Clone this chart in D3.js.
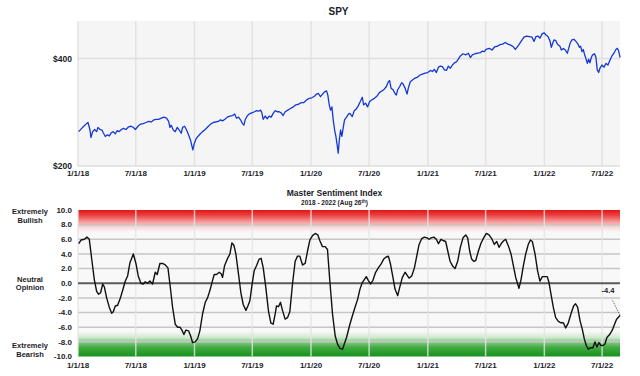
<!DOCTYPE html>
<html>
<head>
<meta charset="utf-8">
<script src="https://cdn.jsdelivr.net/npm/d3@7"></script>
<style>
  body { margin: 0; background: #fff; }
  text { font-family: Arial, "Liberation Sans", sans-serif; font-weight: bold; fill: #1c1c28; }
</style>
</head>
<body>
<svg width="640" height="376"></svg>
<script>
// SPY price, [decimal year, $]
const spy = [
  [2018.006,264],[2018.040,272],[2018.069,278],[2018.086,281],[2018.103,267],[2018.111,253],[2018.126,264],
  [2018.143,268],[2018.160,264],[2018.171,272],[2018.189,268],[2018.206,267],[2018.217,262],[2018.234,255],
  [2018.252,258],[2018.269,256],[2018.286,262],[2018.303,264],[2018.320,260],[2018.337,266],[2018.354,264],
  [2018.372,268],[2018.389,270],[2018.412,268],[2018.434,273],[2018.455,274],[2018.475,272],[2018.492,268],
  [2018.515,274],[2018.537,278],[2018.560,279],[2018.583,281],[2018.606,283],[2018.629,282],[2018.652,286],
  [2018.669,287],[2018.692,287],[2018.715,289],[2018.738,291],[2018.760,289],[2018.778,283],[2018.789,272],
  [2018.800,276],[2018.818,267],[2018.835,264],[2018.852,272],[2018.869,267],[2018.886,261],[2018.898,272],
  [2018.915,274],[2018.932,267],[2018.949,258],[2018.966,248],[2018.978,237],[2018.986,230],[2018.998,242],
  [2019.012,250],[2019.029,255],[2019.046,259],[2019.069,264],[2019.092,268],[2019.115,273],[2019.138,278],
  [2019.161,281],[2019.204,283],[2019.224,286],[2019.241,284],[2019.261,287],[2019.281,291],[2019.304,293],
  [2019.327,294],[2019.344,297],[2019.361,289],[2019.378,291],[2019.395,286],[2019.412,279],[2019.424,276],
  [2019.435,286],[2019.452,293],[2019.470,297],[2019.492,299],[2019.515,301],[2019.532,303],[2019.550,302],
  [2019.567,304],[2019.578,299],[2019.590,287],[2019.607,293],[2019.624,288],[2019.641,293],[2019.658,291],
  [2019.675,298],[2019.693,303],[2019.710,301],[2019.727,301],[2019.744,299],[2019.761,294],[2019.778,301],
  [2019.801,304],[2019.824,307],[2019.847,310],[2019.870,314],[2019.893,315],[2019.916,318],[2019.938,318],
  [2019.961,323],[2019.984,326],[2020.007,327],[2020.030,330],[2020.047,334],[2020.064,335],[2020.081,329],
  [2020.099,334],[2020.116,338],[2020.133,340],[2020.144,332],[2020.156,314],[2020.167,304],[2020.179,310],
  [2020.190,286],[2020.202,267],[2020.213,255],[2020.224,239],[2020.233,224],[2020.242,248],[2020.253,267],
  [2020.264,255],[2020.276,272],[2020.287,286],[2020.304,291],[2020.322,297],[2020.333,298],[2020.353,292],
  [2020.370,303],[2020.387,306],[2020.404,312],[2020.422,320],[2020.439,328],[2020.450,314],[2020.467,317],
  [2020.484,310],[2020.502,320],[2020.519,323],[2020.542,326],[2020.564,330],[2020.587,337],[2020.610,340],
  [2020.627,343],[2020.645,348],[2020.662,357],[2020.673,359],[2020.685,345],[2020.702,342],[2020.719,335],
  [2020.730,332],[2020.742,342],[2020.759,348],[2020.776,355],[2020.787,353],[2020.805,345],[2020.822,334],
  [2020.833,345],[2020.850,357],[2020.868,360],[2020.885,363],[2020.908,365],[2020.930,369],[2020.953,371],
  [2020.976,373],[2020.999,374],[2021.022,378],[2021.039,376],[2021.056,380],[2021.073,374],[2021.091,384],
  [2021.108,386],[2021.125,385],[2021.142,379],[2021.159,378],[2021.176,386],[2021.193,382],[2021.211,388],
  [2021.228,392],[2021.245,394],[2021.262,399],[2021.279,405],[2021.302,409],[2021.325,407],[2021.348,410],
  [2021.365,402],[2021.382,407],[2021.405,409],[2021.428,410],[2021.451,411],[2021.468,414],[2021.485,413],
  [2021.499,417],[2021.528,419],[2021.551,416],[2021.574,422],[2021.597,423],[2021.620,426],[2021.642,427],
  [2021.665,430],[2021.688,427],[2021.711,425],[2021.734,422],[2021.751,417],[2021.768,422],[2021.785,427],
  [2021.803,433],[2021.825,440],[2021.848,442],[2021.871,441],[2021.894,440],[2021.911,432],[2021.928,441],
  [2021.945,442],[2021.963,438],[2021.980,446],[2021.997,448],[2022.014,444],[2022.031,441],[2022.048,433],
  [2022.060,421],[2022.071,428],[2022.083,435],[2022.100,433],[2022.111,427],[2022.123,425],[2022.134,423],
  [2022.146,416],[2022.163,419],[2022.180,416],[2022.197,410],[2022.209,419],[2022.220,428],[2022.237,435],
  [2022.254,436],[2022.271,432],[2022.289,427],[2022.300,421],[2022.311,423],[2022.323,413],[2022.334,417],
  [2022.346,407],[2022.357,400],[2022.369,391],[2022.380,399],[2022.391,392],[2022.403,402],[2022.414,407],
  [2022.431,409],[2022.443,402],[2022.454,379],[2022.466,374],[2022.477,382],[2022.494,388],[2022.512,384],
  [2022.529,391],[2022.546,388],[2022.563,397],[2022.580,405],[2022.597,410],[2022.614,417],[2022.626,419],
  [2022.637,415],[2022.645,407],[2022.650,402]
];

// Master Sentiment Index, [decimal year, value]
const msi = [
  [2018.006,5.4],[2018.026,5.9],[2018.054,6.0],[2018.077,6.3],[2018.097,6.0],[2018.120,3.0],[2018.140,0.5],
  [2018.160,-1.1],[2018.177,-1.5],[2018.194,-1.3],[2018.212,-0.1],[2018.226,-0.5],[2018.246,-2.0],[2018.269,-3.3],
  [2018.289,-4.1],[2018.303,-3.9],[2018.320,-3.1],[2018.340,-3.0],[2018.360,-2.2],[2018.383,-1.0],[2018.406,0.3],
  [2018.426,1.0],[2018.446,2.8],[2018.475,4.0],[2018.497,2.7],[2018.517,1.0],[2018.540,0.0],[2018.560,-0.1],
  [2018.577,0.2],[2018.597,0.0],[2018.617,0.3],[2018.640,-0.1],[2018.663,1.5],[2018.680,1.2],[2018.703,2.7],
  [2018.726,2.7],[2018.749,2.5],[2018.772,2.1],[2018.789,-0.1],[2018.812,-3.3],[2018.835,-5.6],[2018.855,-6.0],
  [2018.875,-6.0],[2018.892,-6.4],[2018.909,-7.0],[2018.926,-6.4],[2018.949,-6.5],[2018.969,-7.3],[2018.983,-8.1],
  [2019.006,-8.0],[2019.026,-7.6],[2019.046,-6.5],[2019.069,-4.2],[2019.092,-2.6],[2019.112,-2.0],[2019.132,-1.0],
  [2019.155,0.4],[2019.169,1.2],[2019.189,1.2],[2019.212,1.5],[2019.229,1.3],[2019.241,0.8],[2019.258,2.4],
  [2019.284,3.4],[2019.304,4.0],[2019.321,5.5],[2019.338,5.2],[2019.355,4.0],[2019.378,1.2],[2019.398,-1.3],
  [2019.418,-2.9],[2019.441,-3.7],[2019.458,-3.1],[2019.475,-2.4],[2019.492,-0.4],[2019.512,1.7],[2019.532,2.4],
  [2019.555,3.3],[2019.572,3.4],[2019.590,2.1],[2019.612,-0.6],[2019.635,-3.8],[2019.655,-5.4],[2019.675,-5.6],
  [2019.692,-4.2],[2019.704,-3.1],[2019.721,-3.2],[2019.738,-2.6],[2019.755,-3.7],[2019.778,-4.9],[2019.798,-4.7],
  [2019.818,-3.9],[2019.841,-0.1],[2019.864,3.0],[2019.884,3.7],[2019.904,3.7],[2019.927,2.5],[2019.950,2.7],
  [2019.970,4.4],[2019.990,5.9],[2020.013,6.5],[2020.036,6.8],[2020.058,6.6],[2020.076,5.8],[2020.098,5.0],
  [2020.121,5.0],[2020.141,4.6],[2020.161,0.3],[2020.184,-4.2],[2020.207,-7.2],[2020.227,-8.3],[2020.247,-8.9],
  [2020.270,-9.0],[2020.287,-8.2],[2020.304,-7.4],[2020.333,-5.6],[2020.353,-4.5],[2020.376,-3.3],[2020.399,-2.2],
  [2020.419,-0.8],[2020.439,0.1],[2020.456,0.5],[2020.473,0.9],[2020.490,0.4],[2020.510,-0.1],[2020.530,0.4],
  [2020.553,1.5],[2020.576,2.1],[2020.599,2.6],[2020.622,3.3],[2020.645,3.6],[2020.662,3.7],[2020.679,2.7],
  [2020.699,1.0],[2020.719,-0.8],[2020.742,-1.7],[2020.762,-0.4],[2020.782,0.8],[2020.805,1.5],[2020.822,1.1],
  [2020.839,0.7],[2020.862,1.0],[2020.885,2.1],[2020.905,3.7],[2020.925,5.3],[2020.948,6.1],[2020.970,6.3],
  [2020.993,6.2],[2021.011,6.0],[2021.028,6.2],[2021.051,6.3],[2021.073,6.0],[2021.091,5.4],[2021.113,6.0],
  [2021.136,5.8],[2021.153,5.7],[2021.171,4.4],[2021.191,3.0],[2021.211,2.4],[2021.234,2.0],[2021.256,3.0],
  [2021.279,4.9],[2021.302,6.2],[2021.325,6.6],[2021.342,6.2],[2021.359,4.4],[2021.376,3.3],[2021.394,3.0],
  [2021.411,3.1],[2021.434,4.4],[2021.457,5.5],[2021.479,6.2],[2021.502,6.8],[2021.525,6.6],[2021.548,6.1],
  [2021.571,5.3],[2021.591,5.7],[2021.611,4.9],[2021.634,5.5],[2021.651,5.8],[2021.668,6.0],[2021.691,5.1],
  [2021.714,4.0],[2021.734,2.4],[2021.754,0.8],[2021.771,-0.1],[2021.782,-0.7],[2021.800,0.5],[2021.820,2.4],
  [2021.840,4.0],[2021.862,5.3],[2021.880,5.9],[2021.897,5.7],[2021.920,4.0],[2021.942,1.7],[2021.962,0.3],
  [2021.983,0.9],[2022.005,0.9],[2022.025,0.9],[2022.040,0.1],[2022.057,-1.5],[2022.077,-3.3],[2022.097,-4.7],
  [2022.120,-5.2],[2022.143,-5.4],[2022.163,-5.4],[2022.183,-6.1],[2022.206,-5.4],[2022.228,-4.2],[2022.251,-3.1],
  [2022.268,-2.8],[2022.286,-3.3],[2022.306,-5.1],[2022.326,-6.3],[2022.343,-7.6],[2022.360,-8.5],[2022.377,-9.0],
  [2022.400,-8.8],[2022.417,-8.8],[2022.434,-8.0],[2022.451,-8.7],[2022.469,-8.1],[2022.486,-8.5],[2022.503,-8.5],
  [2022.520,-8.3],[2022.537,-7.4],[2022.560,-7.0],[2022.583,-6.4],[2022.600,-5.7],[2022.620,-4.9],[2022.650,-4.4]
];

const priceTicks = [200, 400];
const msiTicks = [-10, -8, -6, -4, -2, 0, 2, 4, 6, 8, 10];
const sideLabels = [
  { v: 9.2, lines: ["Extremely", "Bullish"] },
  { v: 0, lines: ["Neutral", "Opinion"] },
  { v: -9.1, lines: ["Extremely", "Bearish"] }
];
const lastValue = -4.4;

function toDate(t) {
  const y = Math.floor(t);
  const a = new Date(y, 0, 1), b = new Date(y + 1, 0, 1);
  return new Date(+a + (t - y) * (b - a));
}

const svg = d3.select("svg");
const x = d3.scaleTime()
  .domain([new Date(2018, 0, 1), new Date(2022, 7, 26)])
  .range([78, 620]);
const dateTicks = x.ticks(d3.timeMonth.every(6));
const fmt = d => `${d.getMonth() + 1}/${d.getDate()}/${String(d.getFullYear()).slice(2)}`;

// ---------- SPY panel ----------
const yP = d3.scaleLinear().domain([200, 470]).range([166, 21]);
const topG = svg.append("g");

topG.append("rect")
  .attr("x", 78).attr("y", 21).attr("width", 542).attr("height", 145)
  .attr("fill", "#f5f5f5");

topG.selectAll(".vg").data(dateTicks).join("line")
  .attr("x1", d => x(d)).attr("x2", d => x(d))
  .attr("y1", 21).attr("y2", 166)
  .attr("stroke", "#e2e2e2").attr("stroke-width", 1.5);

topG.selectAll(".hg").data(priceTicks).join("line")
  .attr("x1", 78).attr("x2", 620)
  .attr("y1", d => yP(d)).attr("y2", d => yP(d))
  .attr("stroke", "#dedede").attr("stroke-width", 1.5);

topG.selectAll(".yl").data(priceTicks).join("text")
  .attr("x", 72).attr("y", d => yP(d)).attr("dy", "0.35em")
  .attr("text-anchor", "end").attr("font-size", 8.5)
  .text(d => "$" + d);

topG.selectAll(".xl").data(dateTicks).join("text")
  .attr("x", d => x(d)).attr("y", 176)
  .attr("text-anchor", "middle").attr("font-size", 8)
  .text(fmt);

topG.append("text")
  .attr("x", 338.5).attr("y", 15)
  .attr("text-anchor", "middle").attr("font-size", 10)
  .text("SPY");

topG.append("path")
  .datum(spy)
  .attr("fill", "none")
  .attr("stroke", "#1438d6")
  .attr("stroke-width", 1.3)
  .attr("stroke-linejoin", "round")
  .attr("d", d3.line().x(d => x(toDate(d[0]))).y(d => yP(d[1])));

// ---------- Master Sentiment panel ----------
const yM = d3.scaleLinear().domain([-10, 10]).range([356.5, 210]);
const botG = svg.append("g");

const defs = svg.append("defs");
const grad = defs.append("linearGradient")
  .attr("id", "zone").attr("x1", 0).attr("x2", 0).attr("y1", 0).attr("y2", 1);
[
  [0, "#e21616"], [0.035, "#ea4040"], [0.08, "#f49a9a"], [0.12, "#fadada"], [0.15, "#f8f8f8"],
  [0.83, "#f8f8f8"], [0.87, "#cfe9cf"], [0.9, "#86c986"], [0.94, "#3faa3f"], [1, "#16921c"]
].forEach(s => grad.append("stop").attr("offset", s[0]).attr("stop-color", s[1]));

botG.append("rect")
  .attr("x", 78).attr("y", yM(10)).attr("width", 542).attr("height", yM(-10) - yM(10))
  .attr("fill", "url(#zone)");

botG.selectAll(".hg").data(msiTicks.filter(d => Math.abs(d) < 10 && d !== 0)).join("line")
  .attr("x1", 78).attr("x2", 620)
  .attr("y1", d => yM(d)).attr("y2", d => yM(d))
  .attr("stroke", "#c6c6c6").attr("stroke-width", 1.5);

botG.selectAll(".vg").data(dateTicks).join("line")
  .attr("x1", d => x(d)).attr("x2", d => x(d))
  .attr("y1", yM(10)).attr("y2", yM(-10))
  .attr("stroke", "#e4e4e4").attr("stroke-opacity", 0.8).attr("stroke-width", 1.5);

botG.append("line")
  .attr("x1", 78).attr("x2", 620)
  .attr("y1", yM(0)).attr("y2", yM(0))
  .attr("stroke", "#5a5a5a").attr("stroke-width", 2);

botG.selectAll(".yl").data(msiTicks).join("text")
  .attr("x", 72).attr("y", d => yM(d)).attr("dy", "0.35em")
  .attr("text-anchor", "end").attr("font-size", 8)
  .text(d => d.toFixed(1));

botG.selectAll(".xl").data(dateTicks).join("text")
  .attr("x", d => x(d)).attr("y", 368)
  .attr("text-anchor", "middle").attr("font-size", 8)
  .text(fmt);

sideLabels.forEach(s => {
  s.lines.forEach((l, i) => {
    botG.append("text")
      .attr("x", 30).attr("y", yM(s.v) + (i - 0.5) * 8.5).attr("dy", "0.35em")
      .attr("text-anchor", "middle").attr("font-size", 7.5)
      .text(l);
  });
});

botG.append("text")
  .attr("x", 334.5).attr("y", 196)
  .attr("text-anchor", "middle").attr("font-size", 8.5)
  .text("Master Sentiment Index");

const sub = botG.append("text")
  .attr("x", 334.5).attr("y", 205)
  .attr("text-anchor", "middle").attr("font-size", 6.5);
sub.append("tspan").text("2018 - 2022 (Aug 26");
sub.append("tspan").attr("font-size", 4.5).attr("dy", -2.5).text("th");
sub.append("tspan").attr("dy", 2.5).text(")");

botG.append("path")
  .datum(msi)
  .attr("fill", "none")
  .attr("stroke", "#111")
  .attr("stroke-width", 1.4)
  .attr("stroke-linejoin", "round")
  .attr("d", d3.line().x(d => x(toDate(d[0]))).y(d => yM(d[1])));

// last value callout
const last = msi[msi.length - 1];
const lx = x(toDate(last[0])), ly = yM(last[1]);
botG.append("line")
  .attr("x1", lx).attr("y1", ly)
  .attr("x2", lx - 8).attr("y2", ly - 16)
  .attr("stroke", "#555").attr("stroke-width", 0.8).attr("stroke-dasharray", "1.5,1");
botG.append("text")
  .attr("x", lx - 12).attr("y", ly - 22)
  .attr("text-anchor", "middle").attr("font-size", 7.5)
  .text(lastValue.toFixed(1));
</script>
</body>
</html>
